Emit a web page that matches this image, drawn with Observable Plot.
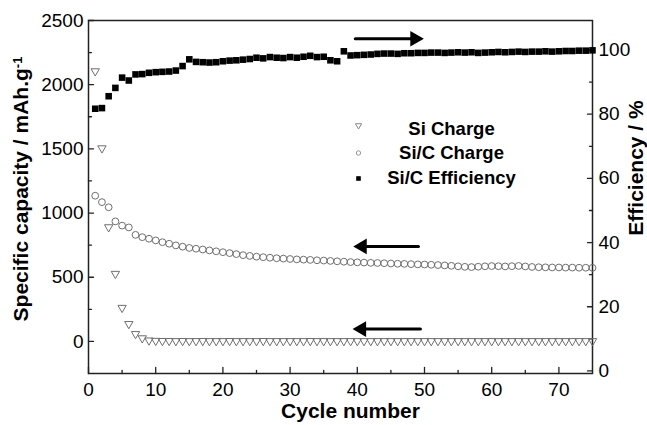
<!DOCTYPE html>
<html>
<head>
<meta charset="utf-8">
<script src="https://cdn.jsdelivr.net/npm/d3@7"></script>
<script src="https://cdn.jsdelivr.net/npm/@observablehq/plot@0.6"></script>
<style>
  html, body { margin: 0; padding: 0; background: #fff; }
  #chart { width: 647px; height: 425px; }
</style>
</head>
<body>
<div id="chart"></div>
<script>
// ---------------- data ----------------
const cycles = d3.range(1, 76);

const siCharge = [
  2105, 1505, 890, 527, 262, 136, 58, 25, 8, 5,
  4, 4, 3, 4, 3, 3, 4, 3, 3, 3,
  4, 3, 3, 3, 3, 4, 3, 3, 3, 3,
  3, 3, 4, 3, 3, 3, 3, 3, 3, 3,
  3, 3, 3, 3, 3, 3, 3, 3, 3, 3,
  3, 3, 3, 3, 3, 3, 3, 3, 3, 3,
  3, 3, 3, 3, 3, 3, 3, 3, 3, 3,
  3, 3, 3, 3, 3
];

const sicCharge = [
  1135, 1085, 1045, 935, 902, 888, 830, 812, 800, 787,
  773, 761, 748, 738, 728, 722, 716, 709, 702, 695,
  688, 680, 672, 666, 660, 656, 652, 648, 645, 642,
  639, 637, 635, 632, 630, 627, 624, 621, 618, 616,
  614, 612, 611, 609, 607, 605, 604, 602, 600, 599,
  597, 595, 592, 589, 585, 581, 579, 582, 585, 587,
  586, 584, 586, 588, 584, 580, 578, 577, 576, 576,
  575, 575, 574, 574, 573
];

const sicEfficiency = [
  81.7, 81.9, 85.6, 88.2, 91.4, 90.5, 92.4, 92.5, 92.9, 93.1,
  93.2, 93.3, 93.6, 95.0, 97.1, 96.3, 96.2, 96.1, 96.2, 96.5,
  96.7, 96.8, 97.0, 97.2, 97.6, 97.4, 97.8, 97.6, 97.5, 97.8,
  97.6, 97.9, 98.2, 97.8, 97.9, 96.8, 96.5, 99.6, 98.3, 98.4,
  98.5, 98.6, 98.8, 98.9, 98.9, 98.8, 99.0, 99.0, 99.1, 99.1,
  99.2, 99.2, 99.1, 99.2, 99.3, 99.2, 99.3, 99.1, 99.2, 99.3,
  99.4, 99.3, 99.4, 99.5, 99.4, 99.5, 99.5, 99.6, 99.5, 99.6,
  99.7, 99.7, 99.8, 99.8, 99.9
];

const legendLabels = ["Si Charge", "Si/C Charge", "Si/C Efficiency"];

const xTicks = [0, 10, 20, 30, 40, 50, 60, 70];
const xMinorTicks = [5, 15, 25, 35, 45, 55, 65];
const leftTicks = [0, 500, 1000, 1500, 2000, 2500];
const leftMinorTicks = [250, 750, 1250, 1750, 2250];
const rightTicks = [0, 20, 40, 60, 80, 100];
const rightMinorTicks = [10, 30, 50, 70, 90];

const xTitle = "Cycle number";
const yTitle = "Specific capacity / mAh.g";
const yTitleSup = "-1";
const y2Title = "Efficiency / %";

// annotation arrows (cycle positions, level, which axis the level is read on)
const arrowTail  = [39.7, 49.1, 49.4];
const arrowTip   = [49.9, 39.4, 39.3];
const arrowLevel = [103.5, 740, 96];
const arrowAxis  = ["right", "left", "left"];

// ---------------- build ----------------
// right axis (efficiency, %) expressed in left-axis units
const toLeft = e => 25 * e - 230;

const rows = cycles.map((c, i) => ({
  cycle: c, si: siCharge[i], sic: sicCharge[i], eff: toLeft(sicEfficiency[i])
}));
const arrows = arrowTail.map((t, i) => ({
  tail: t, tip: arrowTip[i],
  y: arrowAxis[i] === "right" ? toLeft(arrowLevel[i]) : arrowLevel[i]
}));
const rightLabel = new Map(rightTicks.map(t => [toLeft(t), String(t)]));

const tickShape = { draw(ctx, l) { ctx.moveTo(0, 0); ctx.lineTo(0, -l); } };
const font = "'Liberation Sans', Arial, Helvetica, sans-serif";
const tickStroke = "#222";
const lblSize = 19;
const legendSize = 18.5;
const titleSize = 21;

const inTicks = (data, anchor, rot, len, ch) => Plot.vector(data, {
  [ch]: d => d, frameAnchor: anchor, rotate: rot, length: len, anchor: "start",
  shape: tickShape, stroke: tickStroke, strokeWidth: 1.3
});

const legendMarkerDy = [105, 132.5, 158];
const legendTextDy = [109, 133, 158];

const plot = Plot.plot({
  width: 647,
  height: 425,
  marginLeft: 88,
  marginRight: 55,
  marginTop: 20,
  marginBottom: 52,
  style: { fontFamily: font, fontSize: "19px", background: "white", color: "black", overflow: "visible" },
  x: { domain: [0, 75] },
  y: { domain: [-250, 2500] },
  marks: [
    Plot.frame({ stroke: "#222", strokeWidth: 1.5 }),
    // inward ticks
    inTicks(xTicks, "bottom", 0, 6, "x"),
    inTicks(xMinorTicks, "bottom", 0, 3, "x"),
    inTicks(leftTicks, "left", 90, 5, "y"),
    inTicks(leftMinorTicks, "left", 90, 3, "y"),
    inTicks(rightTicks.map(toLeft), "right", -90, 5, "y"),
    inTicks(rightMinorTicks.map(toLeft), "right", -90, 3, "y"),
    // tick labels
    Plot.axisX(xTicks, { anchor: "bottom", tickSize: 0, tickPadding: 9, label: null, fontSize: lblSize, tickFormat: d => String(d) }),
    Plot.axisY(leftTicks, { anchor: "left", tickSize: 0, tickPadding: 5, label: null, fontSize: lblSize, tickFormat: d => String(d) }),
    Plot.axisY(rightTicks.map(toLeft), { anchor: "right", tickSize: 0, tickPadding: 6, label: null, fontSize: lblSize, tickFormat: d => rightLabel.get(d) }),
    // data
    Plot.dot(rows, { x: "cycle", y: "sic", symbol: "circle", r: 3.4, stroke: "#6f6f6f", strokeWidth: 1, fill: "none" }),
    Plot.dot(rows, { x: "cycle", y: "si", symbol: "triangle", rotate: 180, r: 3.1, stroke: "#6f6f6f", strokeWidth: 1, fill: "none" }),
    Plot.dot(rows, { x: "cycle", y: "eff", symbol: "square", r: 3.7, fill: "black", stroke: "none" }),
    // arrows
    Plot.arrow(arrows, { x1: "tail", x2: "tip", y1: "y", y2: "y", headLength: 0, insetEnd: 9, strokeWidth: 3, stroke: "black" }),
    Plot.dot(arrows, { filter: d => d.tip > d.tail, x: "tip", y: "y", symbol: "triangle", rotate: 90, r: 5.8, fill: "black", stroke: "none", dx: -9 }),
    Plot.dot(arrows, { filter: d => d.tip < d.tail, x: "tip", y: "y", symbol: "triangle", rotate: -90, r: 5.8, fill: "black", stroke: "none", dx: 9 }),
    // legend
    Plot.dot([0], { frameAnchor: "top-left", dx: 270, dy: legendMarkerDy[0], symbol: "triangle", rotate: 180, r: 2.3, stroke: "#888", strokeWidth: 1, fill: "none" }),
    Plot.dot([0], { frameAnchor: "top-left", dx: 270, dy: legendMarkerDy[1], symbol: "circle", r: 2.2, stroke: "#999", strokeWidth: 1, fill: "none" }),
    Plot.dot([0], { frameAnchor: "top-left", dx: 270, dy: legendMarkerDy[2], symbol: "square", r: 2.6, fill: "black", stroke: "none" }),
    ...legendLabels.map((t, i) => Plot.text([t], {
      frameAnchor: "top-left", dx: 363, dy: legendTextDy[i], text: d => d,
      textAnchor: "middle", lineAnchor: "middle", fontWeight: "bold", fontSize: legendSize, fill: "black"
    })),
    // axis titles
    Plot.text([yTitle], { frameAnchor: "left", dx: -67, dy: -8, rotate: -90, text: d => d, textAnchor: "middle", fontWeight: "bold", fontSize: titleSize, lineAnchor: "middle", fill: "black" }),
    Plot.text([y2Title], { frameAnchor: "right", dx: 44, dy: -29, rotate: -90, text: d => d, textAnchor: "middle", fontWeight: "bold", fontSize: titleSize, lineAnchor: "middle", fill: "black" }),
    Plot.text([xTitle], { frameAnchor: "bottom", dx: 10, dy: 38, text: d => d, textAnchor: "middle", fontWeight: "bold", fontSize: titleSize, lineAnchor: "middle", fill: "black" })
  ]
});

// superscript on the left-axis unit
d3.select(plot).selectAll("text").each(function () {
  if (this.textContent === yTitle) {
    d3.select(this).append("tspan").attr("dy", "-0.45em").attr("font-size", "0.62em").text(yTitleSup);
  }
});

document.getElementById("chart").appendChild(plot);
</script>
</body>
</html>
